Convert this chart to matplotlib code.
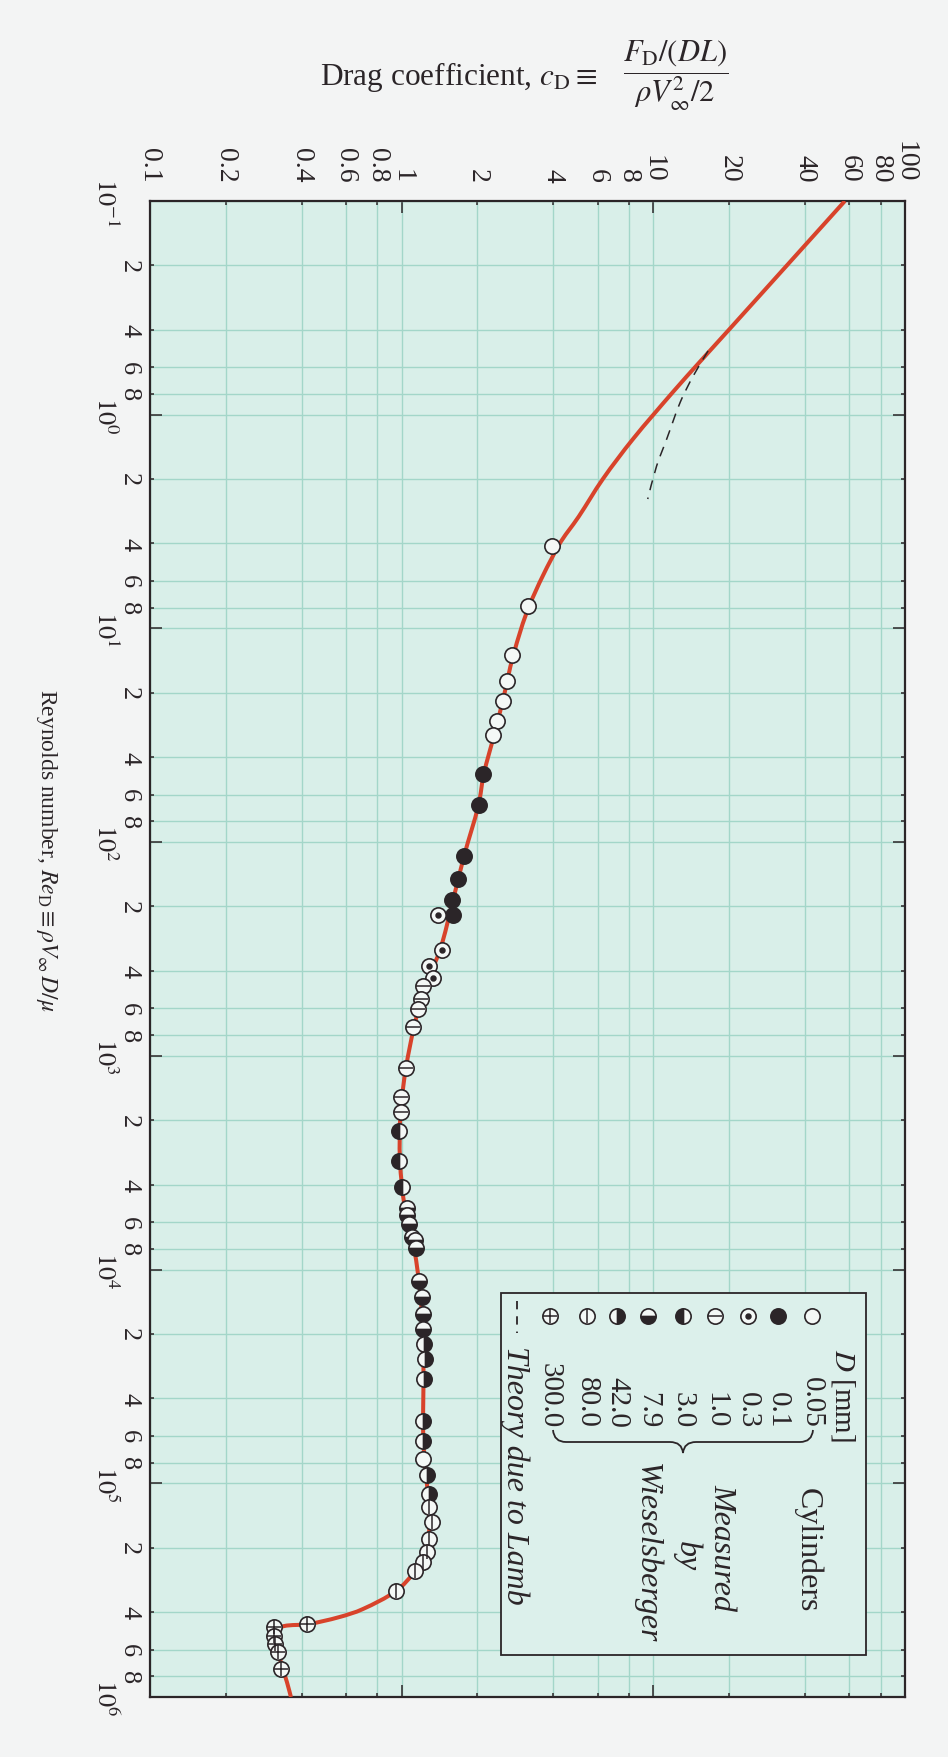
import numpy as np
import matplotlib
matplotlib.use("Agg")
import matplotlib.pyplot as plt
from matplotlib.lines import Line2D
from matplotlib.patches import Rectangle, PathPatch
from matplotlib.path import Path

plt.rcParams['font.family'] = 'serif'
plt.rcParams['font.serif'] = ['Liberation Serif', 'DejaVu Serif']
plt.rcParams['mathtext.fontset'] = 'stix'
plt.rcParams['lines.scale_dashes'] = False

# ---------------- data (Reynolds number, drag coefficient) ----------------
curve_re = [0.1, 0.193, 0.397, 0.566, 0.78, 1.30, 2.0, 3.0, 4.1, 7.8, 13.3, 21.9,
            31.5, 48, 67, 116, 187, 320, 471, 733, 1140, 1830, 3110, 5150, 7930,
            13500, 26200, 63400, 112000, 152000, 210000, 258000, 319000, 388000,
            423000, 456000, 466000, 492000, 687000, 851000, 1000000]
curve_cd = [57.7, 34.9, 20.1, 15.3, 12.0, 8.3, 6.3, 5.05, 4.2, 3.22, 2.78, 2.52,
            2.33, 2.12, 2.02, 1.77, 1.60, 1.42, 1.24, 1.12, 1.04, 0.99, 0.985, 1.03, 1.12,
            1.19, 1.22, 1.22, 1.27, 1.29, 1.25, 1.13, 0.95, 0.70,
            0.564, 0.425, 0.340, 0.318, 0.331, 0.350, 0.363]

lamb_re = [0.503, 0.659, 0.872, 1.30, 1.74, 2.48]
lamb_cd = [16.5, 14.4, 12.8, 11.3, 10.3, 9.5]

re_005 = [4.11, 7.85, 13.3, 17.6, 21.9, 27.1, 31.5, 77100]
cd_005 = [3.96, 3.18, 2.74, 2.62, 2.52, 2.39, 2.31, 1.215]
re_01 = [48.0, 67.0, 116, 149, 187, 219]
cd_01 = [2.10, 2.03, 1.77, 1.67, 1.59, 1.60]
re_03 = [219, 320, 380, 433]
cd_03 = [1.39, 1.45, 1.29, 1.33]
re_10 = [471, 542, 604, 733, 1140, 1560, 1830]
cd_10 = [1.22, 1.19, 1.16, 1.11, 1.04, 0.99, 0.99]
re_30 = [2250, 3110, 4110]
cd_30 = [0.975, 0.98, 1.00]
re_79 = [5150, 5560, 6120, 7050, 7280, 7930, 11300, 13500, 16200, 19000]
cd_79 = [1.05, 1.05, 1.07, 1.10, 1.13, 1.14, 1.17, 1.20, 1.22, 1.22]
re_420 = [22300, 26200, 32500, 51100, 63400, 91500, 112000]
cd_420 = [1.23, 1.24, 1.23, 1.22, 1.22, 1.26, 1.28]
re_800 = [129000, 152000, 182000, 210000, 234000, 258000, 319000]
cd_800 = [1.29, 1.32, 1.28, 1.26, 1.21, 1.13, 0.95]
re_3000 = [456000, 471000, 519000, 565000, 617000, 740000]
cd_3000 = [0.42, 0.31, 0.31, 0.314, 0.323, 0.331]

legend_diam = ["0.05", "0.1", "0.3", "1.0", "3.0", "7.9", "42.0", "80.0", "300.0"]
legend_kind = ["open", "filled", "dot", "hline", "left", "bottom", "right", "vline", "plus"]

cd_major = [0.1, 1, 10, 100]
cd_major_lbl = ["0.1", "1", "10", "100"]
cd_minor = [0.2, 0.4, 0.6, 0.8, 2, 4, 6, 8, 20, 40, 60, 80]
cd_minor_lbl = ["0.2", "0.4", "0.6", "0.8", "2", "4", "6", "8", "20", "40", "60", "80"]
re_major = [0.1, 1, 10, 100, 1e3, 1e4, 1e5, 1e6]
re_major_lbl = [r"$10^{-1}$", r"$10^{0}$", r"$10^{1}$", r"$10^{2}$", r"$10^{3}$",
                r"$10^{4}$", r"$10^{5}$", r"$10^{6}$"]
re_minor = [m * 10.0 ** k for k in range(-1, 6) for m in (2, 4, 6, 8)]
re_minor_lbl = [str(m) for k in range(-1, 6) for m in (2, 4, 6, 8)]

# ---------------- layout ----------------
W, H = 948, 1758
DARK = '#2b2528'
LIGHT = '#f4f8f6'
RED = '#d8432b'


def fx(x):
    return x / W


def fy(y):
    return 1 - y / H


fig = plt.figure(figsize=(W / 100, H / 100), dpi=100, facecolor='#f3f4f4')
L, R, T, B = 150, 905, 202, 1698
ax = fig.add_axes([fx(L), fy(B), (R - L) / W, (B - T) / H])
ax.set_facecolor('#d9efe9')
ax.set_xscale('log')
ax.set_yscale('log')
ax.set_xlim(0.1, 100)
ax.set_ylim(1e6, 0.1)

ax.xaxis.tick_top()
ax.set_xticks(cd_major, cd_major_lbl, rotation=-90, ha='center', va='bottom', fontsize=20, color=DARK)
ax.set_xticks(cd_minor, cd_minor_lbl, minor=True, rotation=-90, ha='center', va='bottom', fontsize=20, color=DARK)
ax.set_yticks(re_major, re_major_lbl, rotation=-90, ha='right', va='center', fontsize=19, color=DARK)
ax.set_yticks(re_minor, re_minor_lbl, minor=True, rotation=-90, ha='right', va='center', fontsize=19, color=DARK)
ax.tick_params(which='both', direction='in', top=True, bottom=True, left=True, right=True,
               labeltop=True, labelbottom=False, color=DARK, width=1.1)
ax.tick_params(which='major', length=8.5)
ax.tick_params(which='minor', length=3)
ax.tick_params(axis='x', which='both', pad=14)
ax.tick_params(axis='y', which='major', pad=23)
ax.tick_params(axis='y', which='minor', pad=7)
for s in ax.spines.values():
    s.set_color(DARK)
    s.set_linewidth(1.6)
ax.grid(True, which='both', color='#a3d6c9', lw=1.0)
ax.set_axisbelow(True)


def smooth_path(xs, ys):
    """Smooth Bezier path through the read points, built in log-log (display-like) space."""
    lx = np.log10(np.asarray(xs, float)) * 251.7
    ly = np.log10(np.asarray(ys, float)) * 213.7
    p = np.column_stack([lx, ly])
    n = len(p)
    d = np.hypot(*np.diff(p, axis=0).T)
    verts = [p[0]]
    codes = [Path.MOVETO]
    for i in range(n - 1):
        if i > 0:
            t1 = (p[i + 1] - p[i - 1]) * d[i] / (d[i - 1] + d[i])
        else:
            t1 = (p[i + 1] - p[i]) * 0.5
        if i + 2 < n:
            t2 = (p[i + 2] - p[i]) * d[i] / (d[i] + d[i + 1])
        else:
            t2 = (p[i + 1] - p[i]) * 0.5
        verts += [p[i] + t1 / 3.0, p[i + 1] - t2 / 3.0, p[i + 1]]
        codes += [Path.CURVE4] * 3
    v = np.array(verts)
    v = np.column_stack([10 ** (v[:, 0] / 251.7), 10 ** (v[:, 1] / 213.7)])
    return Path(v, codes)


ax.add_patch(PathPatch(smooth_path(curve_cd, curve_re), fill=False, edgecolor=RED, lw=2.9,
                       zorder=3, capstyle='butt'))
ax.add_patch(PathPatch(smooth_path(lamb_cd, lamb_re), fill=False, edgecolor=DARK, lw=1.1,
                       linestyle=(0, (8 / 1.1, 6 / 1.1)), zorder=3))


def marker_set(xs, ys, kind, add, transform, z=5):
    base = dict(marker='o', markersize=11, markeredgecolor=DARK, markeredgewidth=1.2,
                linestyle='none')
    arts = []
    if kind in ('left', 'right', 'bottom', 'top'):
        arts.append(Line2D(xs, ys, fillstyle=kind, markerfacecolor=DARK,
                           markerfacecoloralt=LIGHT, **base))
    elif kind == 'filled':
        arts.append(Line2D(xs, ys, markerfacecolor=DARK, **base))
    else:
        arts.append(Line2D(xs, ys, markerfacecolor=LIGHT, **base))
    over = {'dot': ('o', 3.5), 'hline': ('_', 10), 'vline': ('|', 10), 'plus': ('+', 10)}
    if kind in over:
        m, s = over[kind]
        arts.append(Line2D(xs, ys, marker=m, markersize=s, markeredgecolor=DARK,
                           markerfacecolor=DARK, markeredgewidth=1.1, linestyle='none'))
    for a in arts:
        a.set_transform(transform)
        a.set_zorder(z)
        add(a)


series = [(cd_005, re_005), (cd_01, re_01), (cd_03, re_03), (cd_10, re_10), (cd_30, re_30),
          (cd_79, re_79), (cd_420, re_420), (cd_800, re_800), (cd_3000, re_3000)]
for (xs, ys), kind in zip(series, legend_kind):
    marker_set(xs, ys, kind, ax.add_line, ax.transData)

# ---------------- legend (drawn in figure pixels) ----------------
box = Rectangle((fx(501), fy(1656)), (866 - 501) / W, (1656 - 1294) / H, transform=fig.transFigure,
                facecolor='#dcf0eb', edgecolor=DARK, lw=1.3, zorder=5)
fig.add_artist(box)
leg_x = [812, 778, 748, 715, 683, 648, 617, 587, 550]
for x, lab, kind in zip(leg_x, legend_diam, legend_kind):
    marker_set([fx(x)], [fy(1317)], kind, fig.add_artist, fig.transFigure, z=7)
    fig.text(fx(x), fy(1428), lab, rotation=-90, ha='center', va='bottom', fontsize=21,
             color=DARK, zorder=7)
fig.text(fx(843), fy(1442), r"$D$ [mm]", rotation=-90, ha='center', va='bottom', fontsize=21,
         color=DARK, zorder=7)

pts = [(813, 1431), (812, 1443), (800, 1443), (696, 1443), (684, 1443), (683, 1454),
       (682, 1443), (670, 1443), (566, 1443), (554, 1443), (553, 1431)]
codes = [Path.MOVETO, Path.CURVE3, Path.CURVE3, Path.LINETO, Path.CURVE3, Path.CURVE3,
         Path.CURVE3, Path.CURVE3, Path.LINETO, Path.CURVE3, Path.CURVE3]
brace = PathPatch(Path([(fx(a), fy(b)) for a, b in pts], codes), transform=fig.transFigure,
                  fill=False, edgecolor=DARK, lw=1.3, zorder=7)
fig.add_artist(brace)

fig.text(fx(807), fy(1550), "Cylinders", rotation=-90, ha='center', va='center', fontsize=23,
         color=DARK, zorder=7)
fig.text(fx(722), fy(1548), "Measured", rotation=-90, ha='center', va='center', fontsize=23,
         style='italic', color=DARK, zorder=7)
fig.text(fx(687), fy(1556), "by", rotation=-90, ha='center', va='center', fontsize=23,
         style='italic', color=DARK, zorder=7)
fig.text(fx(647), fy(1553), "Wieselsberger", rotation=-90, ha='center', va='center', fontsize=23,
         style='italic', color=DARK, zorder=7)
fig.add_artist(Line2D([fx(517), fx(517)], [fy(1302), fy(1334)], transform=fig.transFigure,
                      color=DARK, lw=1.3, dashes=(6, 5), zorder=7))
fig.text(fx(515), fy(1346), "Theory due to Lamb", rotation=-90, ha='center', va='top', fontsize=23,
         style='italic', color=DARK, zorder=7)

# ---------------- axis titles ----------------
fig.text(fx(320), fy(77), r"Drag coefficient, $c_{\rm D}\equiv$", ha='left', va='center',
         fontsize=22.5, color=DARK)
fig.text(fx(676), fy(76), r"$\dfrac{F_{\rm D}/(DL)}{\rho V_\infty^2/2}$", ha='center', va='center',
         fontsize=22, color=DARK)
fig.text(fx(46), fy(850), r"Reynolds number, $Re_{\rm D}\equiv\rho V_\infty\, D/\mu$",
         rotation=-90, ha='center', va='center', fontsize=17, color=DARK)

fig.savefig('out.png', dpi=100, facecolor=fig.get_facecolor())
